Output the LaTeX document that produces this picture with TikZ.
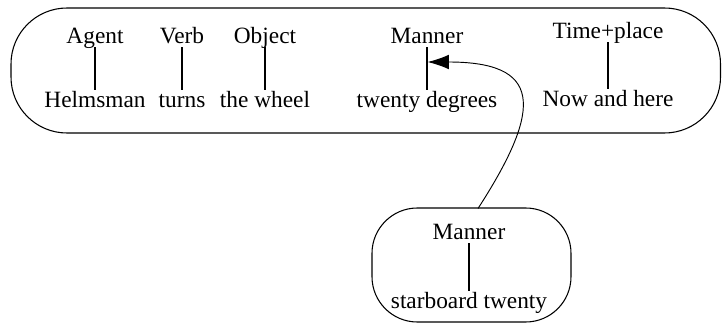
\documentclass[tikz,border=0pt]{standalone}
\usepackage{fontspec}
\setmainfont{Liberation Serif}
\usetikzlibrary{arrows.meta}
\begin{document}
\begin{tikzpicture}[x=0.75pt,y=-0.75pt,
  lbl/.style={anchor=base,inner xsep=0pt,inner ysep=3pt,text height=9.75pt,text depth=0pt,
    font=\fontsize{17.5}{20}\selectfont},
  link/.style={line width=1.2pt},
  frame/.style={draw,line width=0.8pt},
  arr/.style={line width=0.7pt,-{Latex[length=16pt,width=11pt]}}]
\useasboundingbox (0,0) rectangle (722,332);
% frames
\draw[frame,rounded corners=42pt] (11,8) rectangle (720.5,133);
\draw[frame,rounded corners=34pt] (372,208) rectangle (571,322);
% top row
\node[lbl] (ag) at (95,43) {Agent};
\node[lbl] (he) at (95,107) {Helmsman};
\node[lbl] (ve) at (182,43) {Verb};
\node[lbl] (tu) at (182,107) {turns};
\node[lbl] (ob) at (265,43) {Object};
\node[lbl] (tw) at (265,107) {the wheel};
\node[lbl] (ma) at (427,43) {Manner};
\node[lbl] (td) at (427,107) {twenty degrees};
\node[lbl] (tp) at (608,38) {Time+place};
\node[lbl] (nh) at (608,106) {Now and here};
% bottom
\node[lbl] (mb) at (469,239) {Manner};
\node[lbl] (st) at (469,308) {starboard twenty};
\draw[link] (ag) -- (he);
\draw[link] (ve) -- (tu);
\draw[link] (ob) -- (tw);
\draw[link] (ma) -- (td);
\draw[link] (tp) -- (nh);
\draw[link] (mb) -- (st);
\coordinate (tip) at (427.6,62);
\coordinate (from) at (478,208.5);
\draw[arr] (from) .. controls (545,105) and (540,62) .. (tip);
\end{tikzpicture}
\end{document}
